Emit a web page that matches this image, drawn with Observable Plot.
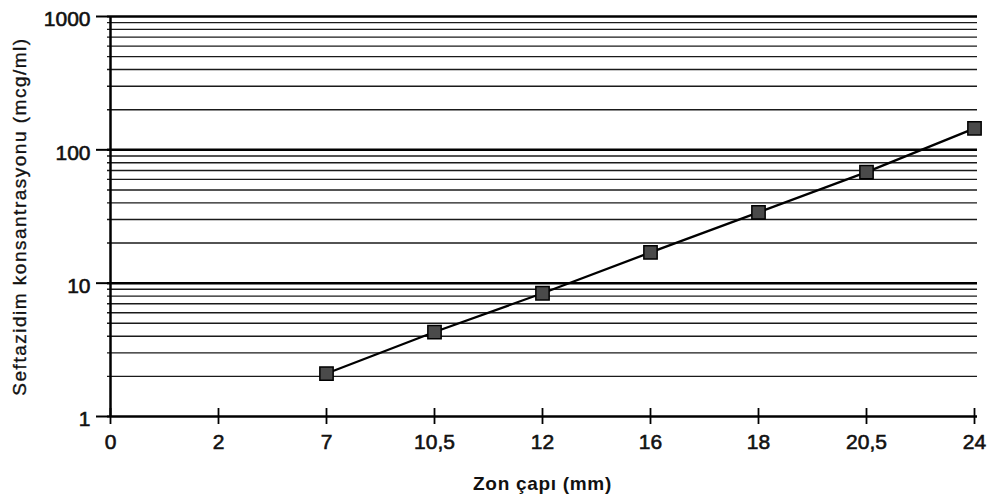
<!DOCTYPE html>
<html>
<head>
<meta charset="utf-8">
<script src="https://cdn.jsdelivr.net/npm/d3@7"></script>
<script src="https://cdn.jsdelivr.net/npm/@observablehq/plot@0.6"></script>
<style>
  html, body { margin: 0; padding: 0; background: #fff; }
  #chart g[aria-label="y-axis tick label"] text,
  #chart g[aria-label="x-axis tick label"] text { font-size: 21px; font-weight: normal; fill: #111; stroke: #111; stroke-width: 0.6px; }
  #chart g[aria-label="y-axis label"] text { font-size: 19px; font-weight: normal; letter-spacing: 1.5px; fill: #111; stroke: #111; stroke-width: 0.35px; }
  #chart g[aria-label="x-axis label"] text { font-size: 19px; font-weight: bold; letter-spacing: 0.7px; fill: #111; }
</style>
</head>
<body>
<div id="chart"></div>
<script>
const xLabels = ["0", "2", "7", "10,5", "12", "16", "18", "20,5", "24"];
const pointX = ["7", "10,5", "12", "16", "18", "20,5", "24"];
const pointY = [2.1, 4.3, 8.4, 17, 34, 68, 145];
const yTicks = [1, 10, 100, 1000];
const majorY = [10, 100, 1000];
const minorY = [2, 3, 4, 5, 6, 7, 8, 9, 20, 30, 40, 50, 60, 70, 80, 90, 200, 300, 400, 500, 600, 700, 800, 900];
const yTitle = "Seftazidim konsantrasyonu (mcg/ml)";
const xTitle = "Zon çapı (mm)";

const points = pointX.map((x, i) => ({x, y: pointY[i]}));

const chart = Plot.plot({
  width: 1000,
  height: 501,
  marginLeft: 107,
  marginRight: 23,
  marginTop: 16,
  marginBottom: 85,
  style: {fontFamily: "'Liberation Sans', Arial, sans-serif", background: "#fff", color: "#000"},
  x: {type: "point", domain: xLabels, padding: 0},
  y: {type: "log", domain: [1, 1000]},
  marks: [
    Plot.ruleY(minorY, {stroke: "#1a1a1a", strokeWidth: 1.4}),
    Plot.ruleY(majorY, {stroke: "#000", strokeWidth: 2.5}),
    Plot.ruleY([1], {stroke: "#000", strokeWidth: 2.5}),
    Plot.ruleX(["0"], {stroke: "#000", strokeWidth: 2.5}),
    // y ticks (marks only)
    Plot.axisY({ticks: yTicks, tickSize: 11, tickFormat: () => "", strokeWidth: 2, label: null}),
    // y tick labels, slightly below their lines as in the print
    Plot.axisY({
      ticks: yTicks, tickFormat: d => String(d), tickSize: 0, tickPadding: 17, dy: 3,
      label: yTitle, labelAnchor: "center", labelArrow: "none", labelOffset: 95
    }),
    Plot.axisX({
      tickSize: 8, tickPadding: 10, strokeWidth: 1.8,
      label: xTitle, labelAnchor: "center", labelArrow: "none", labelOffset: 73
    }),
    Plot.axisX({tickSize: 8, dy: -8, tickFormat: () => "", strokeWidth: 1.8, label: null}),
    Plot.line(points, {x: "x", y: "y", stroke: "#000", strokeWidth: 2.3}),
    Plot.dot(points, {x: "x", y: "y", symbol: "square", r: 7.5, fill: "#4a4a4a", stroke: "#000", strokeWidth: 1.5})
  ]
});
document.getElementById("chart").appendChild(chart);
</script>
</body>
</html>
